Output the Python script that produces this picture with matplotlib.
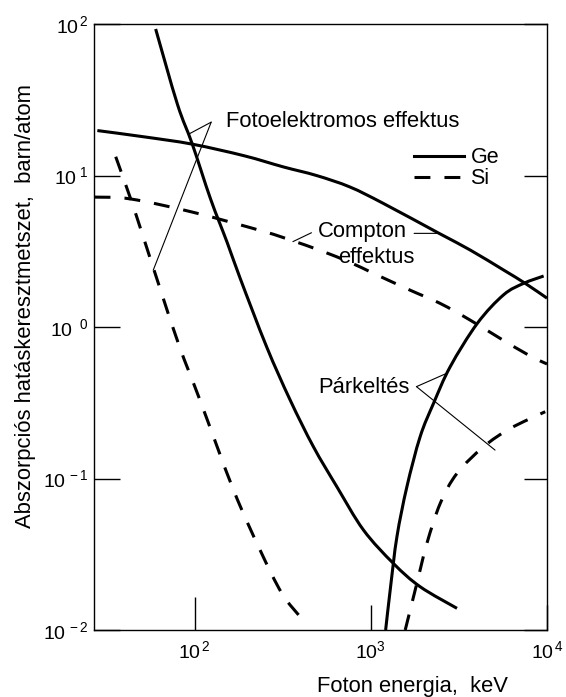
import matplotlib
matplotlib.use("Agg")
import numpy as np
import matplotlib.pyplot as plt
from matplotlib.path import Path
from matplotlib.patches import PathPatch
from matplotlib.lines import Line2D

# values (keV, barn/atom)
ge_photo_e = [60, 79.7, 96.9, 123, 153, 181, 256, 348, 472, 641, 908, 1343, 1905, 3083]
ge_photo_s = [92.7, 29.6, 16.1, 7.0, 3.6, 2.1, 0.74, 0.33, 0.162, 0.0883, 0.0457, 0.0275, 0.0193, 0.0139]

si_photo_e = [35.6, 43.3, 50.4, 64.1, 82, 107, 166, 235, 312, 395]
si_photo_s = [13.3, 7.0, 4.11, 1.74, 0.74, 0.33, 0.084, 0.0337, 0.0175, 0.0123]

ge_compton_e = [28, 51.5, 96.9, 190.7, 318, 491, 760, 1175, 2440, 3666, 5660, 7530, 10000]
ge_compton_s = [19.8, 18.0, 16.1, 13.5, 11.4, 10.0, 8.4, 6.55, 4.15, 3.22, 2.38, 1.94, 1.55]

si_compton_e = [27, 43.3, 99, 245, 345, 520, 762, 1035, 1671, 2478, 3664, 5430, 7850, 10000]
si_compton_s = [7.2, 7.0, 5.7, 4.28, 3.77, 3.19, 2.67, 2.26, 1.75, 1.43, 1.11, 0.84, 0.653, 0.57]

ge_pair_e = [1213, 1294, 1406, 1602, 1905, 2268, 2822, 4022, 5667, 7360, 9570]
ge_pair_s = [0.01, 0.0193, 0.0413, 0.0883, 0.189, 0.313, 0.547, 1.057, 1.63, 1.94, 2.17]

si_pair_e = [1567, 1824, 2080, 2478, 3081, 4365, 6187, 9770]
si_pair_s = [0.01, 0.0203, 0.0373, 0.0686, 0.108, 0.162, 0.214, 0.276]

x_ticks = [100, 1000, 10000]
x_tick_labels = [r'$10^{\,2}$', r'$10^{3}$', r'$10^{\,4}$']
y_ticks = [0.01, 0.1, 1, 10, 100]
y_tick_labels = [r'$10^{\,-2}$', r'$10^{\,-1}$', r'$10^{\ \ 0}$', r'$10^{\ 1}$', r'$10^{\,2}$']

plt.rcParams['font.family'] = ['Liberation Sans', 'DejaVu Sans']
plt.rcParams['mathtext.fontset'] = 'custom'
plt.rcParams['mathtext.rm'] = 'Liberation Sans'
plt.rcParams['mathtext.it'] = 'Liberation Sans:italic'
plt.rcParams['mathtext.bf'] = 'Liberation Sans:bold'


def curve_path(e, s):
    # smooth bezier curve through the read points (done in log-log space)
    p = np.column_stack([np.log10(e), np.log10(s)])
    n = len(p)
    verts = [p[0]]
    codes = [Path.MOVETO]
    for i in range(n - 1):
        p0 = p[i - 1] if i > 0 else p[i]
        p3 = p[i + 2] if i + 2 < n else p[i + 1]
        verts += [p[i] + (p[i + 1] - p0) / 6, p[i + 1] - (p3 - p[i]) / 6, p[i + 1]]
        codes += [Path.CURVE4] * 3
    return Path(10 ** np.array(verts), codes)


W, H = 566, 697
fig = plt.figure(figsize=(W / 100, H / 100), dpi=100)
ax = fig.add_axes([94 / W, 1 - 630 / H, (547 - 94) / W, (630 - 24) / H])
ax.set_xscale('log')
ax.set_yscale('log')

lw = 2.2
dash = (0, (5.2, 4.6))
for e, s, ls in [(ge_photo_e, ge_photo_s, '-'), (ge_compton_e, ge_compton_s, '-'),
                 (ge_pair_e, ge_pair_s, '-'), (si_photo_e, si_photo_s, dash),
                 (si_compton_e, si_compton_s, dash), (si_pair_e, si_pair_s, dash)]:
    ax.add_patch(PathPatch(curve_path(e, s), fill=False, ec='black', lw=lw,
                           ls=ls, capstyle='butt', joinstyle='round'))

ax.set_xlim(26.8, 1.0e4)
ax.set_ylim(0.01, 100)
ax.set_xticks(x_ticks, x_tick_labels)
ax.set_yticks(y_ticks, y_tick_labels)
ax.minorticks_off()

for sp in ax.spines.values():
    sp.set_linewidth(1.0)

ax.tick_params(axis='y', direction='in', length=18.7, width=1.0,
               left=True, right=True, labelsize=14, pad=4)
ax.tick_params(axis='x', direction='in', length=18, width=1.0,
               top=False, labelsize=14, pad=7)
for t in ax.yaxis.get_major_ticks():
    t.tick2line.set_markersize(16.6)
ax.xaxis.get_major_ticks()[0].tick1line.set_markersize(23.8)

fs = 15.8
ax.set_xlabel('Foton energia,  keV', fontsize=fs)
ax.xaxis.set_label_coords(0.703, -0.076)
ax.set_ylabel('Abszorpciós hatáskeresztmetszet,  barn/atom', fontsize=fs)
ax.yaxis.set_label_coords(-0.127, 0.535)

# annotations with thin leader lines
lead = dict(arrowstyle='-', lw=0.8, color='black', shrinkA=0, shrinkB=0)
ax.text(150, 20.9, 'Fotoelektromos effektus', fontsize=fs, va='baseline')
ax.annotate('', xy=(92.8, 18.8), xytext=(124, 22.5), arrowprops=lead)
ax.annotate('', xy=(58.2, 2.38), xytext=(124, 22.5), arrowprops=lead)

ax.text(503.5, 3.91, 'Compton', fontsize=fs, va='baseline')
ax.text(655, 2.63, 'effektus', fontsize=fs, va='baseline')
ax.annotate('', xy=(361, 3.66), xytext=(460, 4.19), arrowprops=lead)
ax.annotate('', xy=(2440, 4.15), xytext=(1760, 4.15), arrowprops=lead)

ax.text(1666, 0.367, 'Párkeltés', fontsize=fs, va='baseline', ha='right')
ax.annotate('', xy=(2688, 0.494), xytext=(1815, 0.404), arrowprops=lead)
ax.annotate('', xy=(5070, 0.154), xytext=(1815, 0.404), arrowprops=lead)

handles = [Line2D([], [], color='black', lw=lw, label='Ge'),
           Line2D([], [], color='black', lw=lw, ls=dash, label='Si')]
ax.legend(handles=handles, loc='center left', bbox_to_anchor=(0.7075, 0.7616),
          frameon=False, fontsize=15.5, handlelength=2.3, handletextpad=0.3,
          labelspacing=0, borderpad=0, borderaxespad=0)

fig.savefig('out.png', dpi=100)
